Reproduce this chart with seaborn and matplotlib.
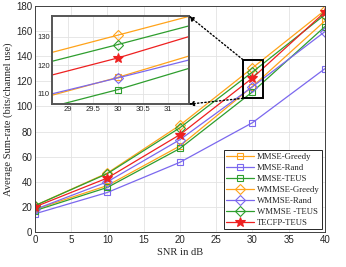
import numpy as np
import pandas as pd
import seaborn as sns
import matplotlib
matplotlib.use("Agg")
import matplotlib.pyplot as plt
from matplotlib.patches import Rectangle, ConnectionPatch

snr = [0, 10, 20, 30, 40]
series_names = ["MMSE-Greedy", "MMSE-Rand", "MMSE-TEUS", "WMMSE-Greedy",
                "WMMSE-Rand", "WMMSE -TEUS", "TECFP-TEUS"]
mmse_greedy = [18, 37, 68.5, 115.8, 168]
mmse_rand = [14.5, 31.5, 55.5, 87, 130]
mmse_teus = [17, 35.5, 66.5, 111.5, 163.5]
wmmse_greedy = [21, 47, 85, 130.6, 176.5]
wmmse_rand = [18, 40, 73.5, 115.6, 159.5]
wmmse_teus = [21, 46.5, 83, 127.3, 173]
tecfp_teus = [20, 43, 77.5, 122.6, 175]
values = [mmse_greedy, mmse_rand, mmse_teus, wmmse_greedy, wmmse_rand, wmmse_teus, tecfp_teus]

orange = "#FFA31A"
purple = "#7B68EE"
green = "#2E9E2E"
red = "#EE2020"
colors = [orange, purple, green, orange, purple, green, red]
markers = ["s", "s", "s", "D", "D", "D", "*"]
msizes = [4.8, 4.8, 4.8, 4.8, 4.8, 4.8, 7.5]

sns.set_theme(style="white")
plt.rcParams["font.family"] = ["Liberation Sans", "DejaVu Sans"]

fig = plt.figure(figsize=(3.46, 2.67), dpi=100)
ax = fig.add_axes([0.101, 0.131, 0.838, 0.847])

def draw(axis, with_label):
    for name, vals, c, m, ms in zip(series_names, values, colors, markers, msizes):
        sns.lineplot(x=snr, y=vals, ax=axis, color=c, marker=m, markersize=ms,
                     markerfacecolor=(c if m == "*" else "none"), markeredgecolor=c,
                     markeredgewidth=0.8, linewidth=0.9,
                     label=(name if with_label else None), legend=False)

draw(ax, True)
ax.set_xlim(0, 40)
ax.set_ylim(0, 180)
ax.set_xticks(np.arange(0, 41, 5))
ax.set_yticks(np.arange(0, 181, 20))
ax.grid(True, color="#E3E3E3", linewidth=0.6)
ax.tick_params(direction="in", length=2.5, width=0.6, labelsize=7, colors="#262626", pad=2)
for s in ax.spines.values():
    s.set_color("#404040")
    s.set_linewidth(0.7)
ax.set_xlabel("SNR in dB", family=["Liberation Serif"], fontsize=7.6, labelpad=2)
ax.set_ylabel("Average Sum-rate (bits/channel use)", family=["Liberation Serif"], fontsize=7.6, labelpad=2)

leg = ax.legend(loc="lower right", prop={"family": "Liberation Serif", "size": 6.3},
                frameon=True, fancybox=False, edgecolor="#262626", framealpha=1,
                handlelength=3.2, handletextpad=0.3, borderpad=0.3, labelspacing=0.33,
                borderaxespad=0.3)
leg.get_frame().set_linewidth(0.7)

# inset
x0, x1, y0, y1 = 28.67, 31.43, 106.4, 137.3
axins = fig.add_axes([0.150, 0.610, 0.396, 0.330])
draw(axins, False)
axins.set_xlim(x0, x1)
axins.set_ylim(y0, y1)
axins.set_xticks([29, 29.5, 30, 30.5, 31])
axins.set_xticklabels(["29", "29.5", "30", "30.5", "31"])
axins.set_yticks([110, 120, 130])
axins.grid(True, color="#E3E3E3", linewidth=0.6)
axins.tick_params(direction="in", length=2, width=0.5, labelsize=5.5, colors="#262626", pad=1.5)
axins.set_xlabel("")
axins.set_ylabel("")
axins.set_facecolor("white")
for s in axins.spines.values():
    s.set_color("#555555")
    s.set_linewidth(1.4)

rect = Rectangle((x0, y0), x1 - x0, y1 - y0, fill=False, edgecolor="black", linewidth=1.4, zorder=5)
ax.add_patch(rect)

for (ya, yb) in [(y1, 1.0), (y0, 0.0)]:
    con = ConnectionPatch(xyA=(x0, ya), coordsA=ax.transData,
                          xyB=(1.0, yb), coordsB=axins.transAxes,
                          arrowstyle="-|>", linestyle=":", color="black",
                          linewidth=1.0, mutation_scale=7)
    fig.add_artist(con)

fig.savefig("out.png", dpi=100)
